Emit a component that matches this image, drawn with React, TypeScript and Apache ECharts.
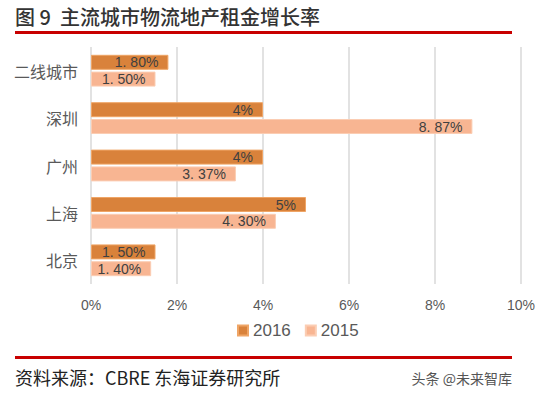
import React, { useEffect, useRef } from "react";
import * as echarts from "echarts";

const categories = ["二线城市", "深圳", "广州", "上海", "北京"];
const values2016 = [1.8, 4, 4, 5, 1.5];
const values2015 = [1.5, 8.87, 3.37, 4.3, 1.4];
const seriesNames = ["2016", "2015"];
const xTicks = { min: 0, max: 10, interval: 2 };
const titleText = "图 9  主流城市物流地产租金增长率";
const sourceText = "资料来源：CBRE 东海证券研究所";
const watermarkText = "头条 @未来智库";

const fmt = (v: number) =>
  Number.isInteger(v) ? `${v}%` : `${v.toFixed(2).replace(".", ". ")}%`;

export default function App() {
  const ref = useRef<HTMLDivElement>(null);
  useEffect(() => {
    document.body.style.margin = "0";
    if (!ref.current) return;
    const chart = echarts.init(ref.current, null, { renderer: "svg" });
    const labelCfg = {
      show: true,
      position: "insideRight" as const,
      distance: 10,
      color: "#404040",
      fontSize: 14,
      fontFamily: "Liberation Sans",
      formatter: (p: any) => fmt(p.value),
    };
    chart.setOption({
      animation: false,
      backgroundColor: "#ffffff",
      grid: { left: 91, right: 32, top: 47, bottom: 110, containLabel: false },
      legend: {
        data: seriesNames,
        bottom: 50,
        left: 232,
        itemWidth: 10,
        itemHeight: 10,
        itemGap: 14,
        icon: "rect",
        textStyle: { fontSize: 17, color: "#595959", fontFamily: "Liberation Sans" },
      },
      xAxis: {
        type: "value",
        min: xTicks.min,
        max: xTicks.max,
        interval: xTicks.interval,
        axisLabel: {
          formatter: "{value}%",
          fontSize: 14,
          color: "#595959",
          margin: 14,
          fontFamily: "Liberation Sans",
        },
        axisLine: { show: false },
        axisTick: { show: false },
        splitLine: { lineStyle: { color: "#D9D9D9", width: 1.5 } },
      },
      yAxis: {
        type: "category",
        data: categories,
        inverse: true,
        axisLine: { show: false },
        axisTick: { show: false },
        axisLabel: {
          fontSize: 16,
          color: "#595959",
          margin: 13,
          fontFamily: "Noto Sans CJK SC",
        },
      },
      series: [
        {
          name: seriesNames[0],
          type: "bar",
          data: values2016,
          barWidth: 15,
          barGap: "12%",
          itemStyle: { color: "#D9823B", borderColor: "#EFA566", borderWidth: 1 },
          label: labelCfg,
        },
        {
          name: seriesNames[1],
          type: "bar",
          data: values2015,
          barWidth: 15,
          itemStyle: { color: "#F8B592", borderColor: "#FBCDB3", borderWidth: 1 },
          label: labelCfg,
        },
      ],
      graphic: [
        {
          type: "text",
          x: 15,
          y: 16,
          style: {
            text: titleText,
            fontSize: 20,
            fontWeight: 500,
            fill: "#333333",
            fontFamily: "Noto Sans CJK SC",
            verticalAlign: "middle",
            align: "left",
          },
        },
        {
          type: "rect",
          shape: { x: 15, y: 31, width: 497, height: 3 },
          style: { fill: "#C80000" },
        },
        {
          type: "rect",
          shape: { x: 15, y: 356, width: 497, height: 3 },
          style: { fill: "#C80000" },
        },
        {
          type: "text",
          x: 15,
          y: 377,
          style: {
            text: sourceText,
            fontSize: 18,
            fill: "#222222",
            fontFamily: "Noto Sans CJK SC",
            verticalAlign: "middle",
            align: "left",
          },
        },
        {
          type: "text",
          x: 512,
          y: 378,
          style: {
            text: watermarkText,
            fontSize: 14,
            fill: "#555555",
            fontFamily: "Noto Sans CJK SC",
            verticalAlign: "middle",
            align: "right",
          },
        },
      ],
    });
    return () => chart.dispose();
  }, []);
  return <div ref={ref} style={{ width: 553, height: 394 }} />;
}
